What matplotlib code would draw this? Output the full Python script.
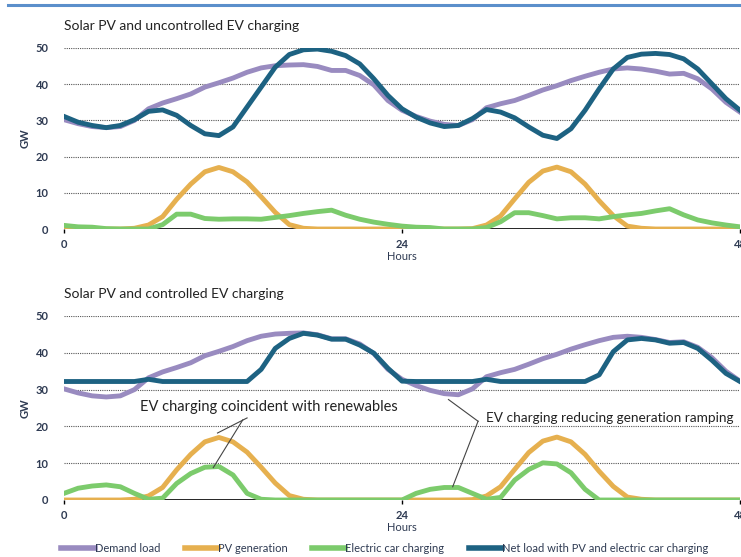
import matplotlib
matplotlib.use("Agg")
import matplotlib.pyplot as plt
from matplotlib.lines import Line2D

plt.rcParams['font.family'] = ['Lato', 'DejaVu Sans']

hours = list(range(49))

demand = [30.2, 29.1, 28.3, 28.0, 28.3, 30.0, 33.2, 34.8, 36.0, 37.3,
          39.2, 40.4, 41.7, 43.3, 44.5, 45.1, 45.3, 45.4, 44.9, 43.8,
          43.8, 42.4, 39.8, 35.5, 32.8, 31.1, 29.8, 28.9, 28.6, 30.2,
          33.5, 34.6, 35.5, 36.9, 38.4, 39.6, 41.0, 42.2, 43.3, 44.2,
          44.5, 44.2, 43.6, 42.8, 43.0, 41.5, 38.7, 35.0, 32.3]

pv = [0, 0, 0, 0, 0, 0.2, 1.1, 3.4, 8.2, 12.4,
      15.8, 17.0, 15.8, 13.0, 8.9, 4.6, 1.2, 0.2, 0, 0,
      0, 0, 0, 0, 0, 0, 0, 0, 0, 0.1,
      1.1, 3.6, 8.3, 12.9, 16.0, 17.1, 15.8, 12.4, 7.8, 3.7,
      0.8, 0.2, 0, 0, 0, 0, 0, 0, 0]

ev_uncontrolled = [1.0, 0.6, 0.5, 0.1, 0, 0, 0, 1.2, 4.1, 4.1,
                   2.9, 2.7, 2.8, 2.8, 2.7, 3.2, 3.7, 4.3, 4.8, 5.2,
                   3.8, 2.7, 1.9, 1.3, 0.8, 0.5, 0.4, 0, 0, 0,
                   0.4, 2.0, 4.5, 4.5, 3.7, 2.8, 3.1, 3.1, 2.8, 3.4,
                   3.9, 4.3, 5.0, 5.6, 3.9, 2.5, 1.7, 1.1, 0.6]

net_uncontrolled = [31.1, 29.5, 28.6, 28.0, 28.6, 30.2, 32.5, 32.9, 31.4, 28.6,
                    26.3, 25.8, 28.2, 33.7, 39.2, 44.7, 48.2, 49.5, 49.7, 49.1,
                    47.9, 45.6, 41.5, 36.9, 33.2, 30.9, 29.3, 28.3, 28.6, 30.5,
                    33.0, 32.3, 30.7, 28.2, 25.9, 25.0, 27.7, 32.8, 38.7, 44.2,
                    47.4, 48.3, 48.5, 48.2, 47.0, 44.2, 40.1, 36.0, 32.8]

ev_controlled = [1.8, 3.2, 3.8, 4.1, 3.6, 1.8, 0.2, 0.5, 4.5, 7.2,
                 8.9, 9.1, 6.8, 1.8, 0.2, 0, 0, 0, 0, 0,
                 0, 0, 0, 0, 0, 1.8, 2.9, 3.4, 3.4, 1.8,
                 0.2, 0.7, 5.4, 8.3, 10.1, 9.8, 7.4, 2.9, 0, 0,
                 0, 0, 0, 0, 0, 0, 0, 0, 0]

net_controlled = [32.2, 32.2, 32.2, 32.2, 32.2, 32.2, 32.8, 32.2, 32.2, 32.2,
                  32.2, 32.2, 32.2, 32.2, 35.5, 41.2, 43.9, 45.3, 44.8, 43.7,
                  43.7, 42.1, 39.9, 35.8, 32.3, 32.2, 32.2, 32.2, 32.2, 32.2,
                  32.8, 32.2, 32.2, 32.2, 32.2, 32.2, 32.2, 32.2, 34.0, 40.3,
                  43.5, 43.9, 43.5, 42.6, 42.8, 41.2, 38.0, 34.4, 32.2]

titles = ["Solar PV and uncontrolled EV charging", "Solar PV and controlled EV charging"]
legend_labels = ["Demand load", "PV generation", "Electric car charging",
                 "Net load with PV and electric car charging"]
xticks = [0, 24, 48]
yticks = [0, 10, 20, 30, 40, 50]

c_demand = '#998bc0'
c_pv = '#e6b04f'
c_ev = '#7ccb6c'
c_net = '#1d6282'
c_text = '#2e3a52'

W, H = 741, 557
fig = plt.figure(figsize=(W / 100, H / 100), dpi=100)

# header rule
fig.add_artist(Line2D([8 / W, 1], [1 - 5 / H, 1 - 5 / H], color='#5b8fcb', lw=2.2,
                      transform=fig.transFigure))

def px_axes(left, right, top, bottom):
    return fig.add_axes([left / W, 1 - bottom / H, (right - left) / W, (bottom - top) / H])

ax1 = px_axes(64, 740, 48, 229)
ax2 = px_axes(64, 740, 316, 500)

LW = 3.5
panels = [(ax1, ev_uncontrolled, net_uncontrolled), (ax2, ev_controlled, net_controlled)]
for i, (ax, ev, net) in enumerate(panels):
    for y in yticks[1:]:
        ax.axhline(y, color='#555555', lw=0.8, ls=(0, (1, 1)), zorder=0)
    ax.axhline(0, color='black', lw=1.2, zorder=1)
    ax.plot(hours, demand, color=c_demand, lw=LW, zorder=3, solid_joinstyle='round')
    ax.plot(hours, pv, color=c_pv, lw=LW, zorder=3, solid_joinstyle='round')
    ax.plot(hours, ev, color=c_ev, lw=LW, zorder=3, solid_joinstyle='round')
    ax.plot(hours, net, color=c_net, lw=LW, zorder=4, solid_joinstyle='round')
    ax.set_xlim(0, 48)
    ax.set_ylim(0, 50)
    for s in ax.spines.values():
        s.set_visible(False)
    ax.set_xticks(xticks)
    ax.set_xticklabels([str(t) for t in xticks])
    ax.set_yticks(yticks)
    ax.tick_params(axis='y', length=0, pad=11, labelsize=8, labelcolor=c_text)
    ax.tick_params(axis='x', length=3, width=1, pad=4, labelsize=8, labelcolor=c_text,
                   color='black')
    for lab in ax.get_xticklabels() + ax.get_yticklabels():
        lab.set_fontweight('bold')
    ax.set_xlabel("Hours", fontsize=8, color=c_text, labelpad=1)
    ax.set_ylabel("GW", fontsize=8, color=c_text, labelpad=4, fontweight='bold')
    ax.set_title(titles[i], loc='left', fontsize=10, color='#222222', pad=13, x=0.0)
    ax.patch.set_alpha(0)

# annotations (bottom panel)
ax2.text(5.4, 25.3, "EV charging coincident with renewables", fontsize=10.5,
         color='#222222', va='center', ha='left', zorder=6)
ax2.plot([13.0, 10.9], [22.3, 18.2], color='#444444', lw=0.8, zorder=6)
ax2.plot([12.7, 10.6], [21.8, 8.8], color='#444444', lw=0.8, zorder=6)

ax2.text(30.0, 22.3, "EV charging reducing generation ramping", fontsize=9.8,
         color='#222222', va='center', ha='left', zorder=6)
ax2.plot([29.4, 27.3], [21.4, 27.3], color='#444444', lw=0.8, zorder=6)
ax2.plot([29.4, 27.6], [21.4, 3.6], color='#444444', lw=0.8, zorder=6)

handles = [Line2D([], [], color=c, lw=4) for c in (c_demand, c_pv, c_ev, c_net)]
fig.legend(handles, legend_labels, loc='center', bbox_to_anchor=(385 / W, 1 - 548 / H),
           ncol=4, frameon=False, fontsize=8, handlelength=3.0, handletextpad=0.0,
           columnspacing=2.2, labelcolor=c_text)

fig.savefig("out.png", dpi=100)
